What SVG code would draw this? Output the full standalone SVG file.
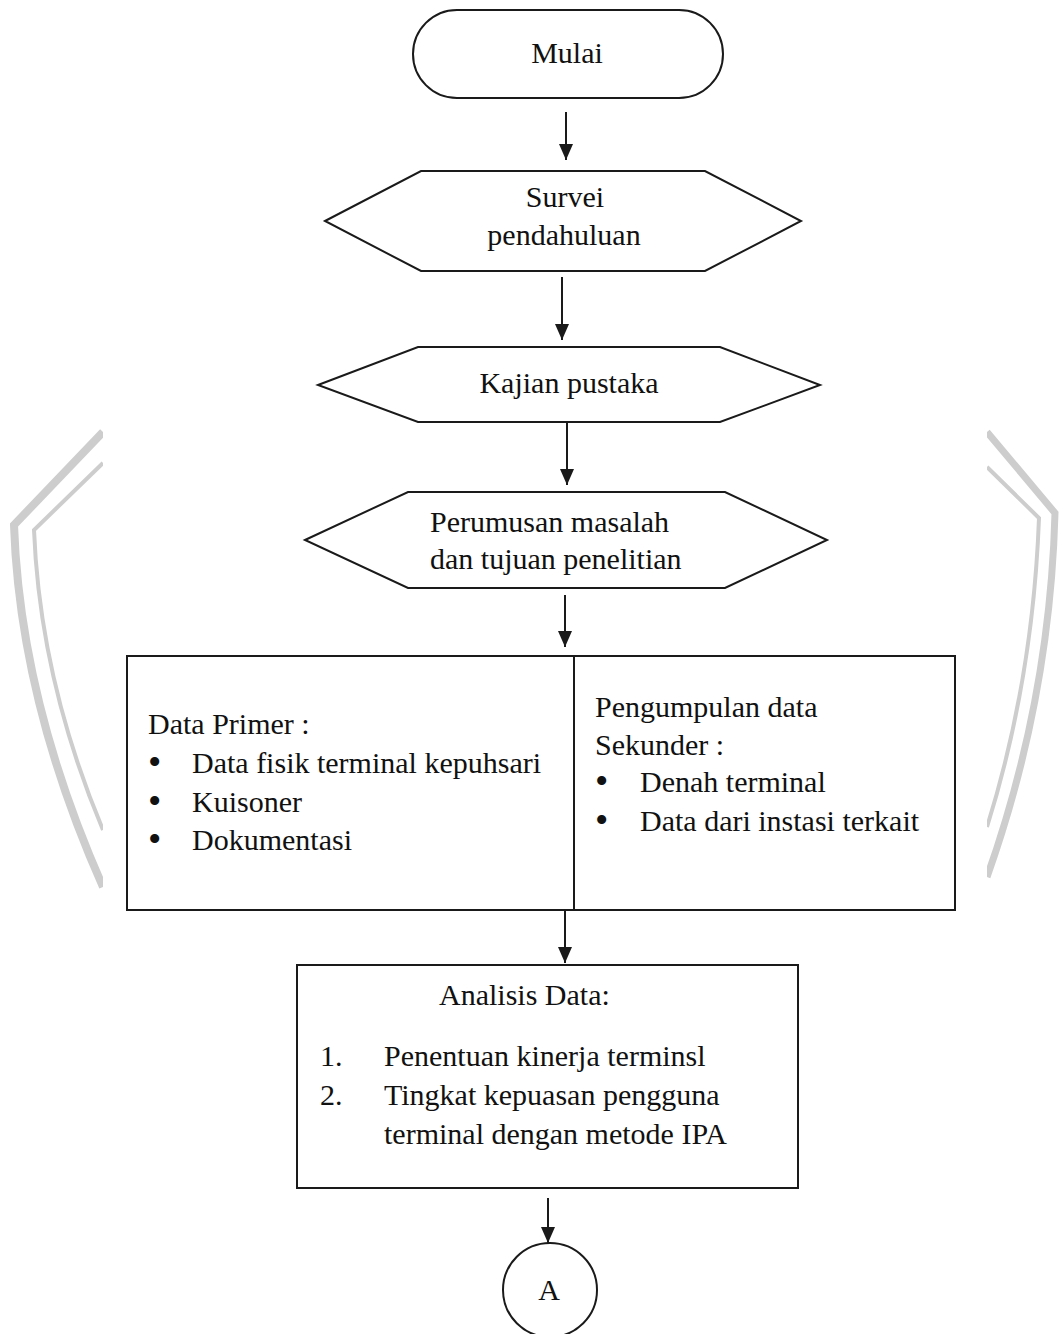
<svg xmlns="http://www.w3.org/2000/svg" width="1059" height="1334" viewBox="0 0 1059 1334">
<style>
.shape{fill:#ffffff;stroke:#1a1a1a;stroke-width:2}
.edge{fill:none;stroke:#1a1a1a;stroke-width:2}
.wm{fill:none;stroke:#cdcdcd;stroke-linecap:butt;stroke-linejoin:miter}
text{font-family:"Liberation Serif","Times New Roman",serif;font-size:30px;fill:#111111}
.c{text-anchor:middle}
.b{font-size:38px}
</style>
<defs>
<marker id="arrow" viewBox="0 0 16 14" refX="16" refY="7" markerWidth="16" markerHeight="14" orient="auto" markerUnits="userSpaceOnUse">
<path d="M0,0 L16,7 L0,14 z" fill="#1a1a1a"/>
</marker>
</defs>
<rect x="0" y="0" width="1059" height="1334" fill="#ffffff"/>
<g id="watermark">
<path class="wm" stroke-width="8" d="M103,432 L14,525 Q20,700 103,887"/>
<path class="wm" stroke-width="4" d="M103,463 L34,530 Q40,680 103,830"/>
<path class="wm" stroke-width="7" d="M987,432 L1055,513 Q1050,700 987,877"/>
<path class="wm" stroke-width="4" d="M987,467 L1039,518 Q1033,680 987,827"/>
<rect x="103" y="0" width="884" height="1334" fill="#ffffff"/>
</g>
<g id="connectors">
<line class="edge" x1="566" y1="112" x2="566" y2="160" marker-end="url(#arrow)"/>
<line class="edge" x1="562" y1="277" x2="562" y2="340" marker-end="url(#arrow)"/>
<line class="edge" x1="567" y1="423" x2="567" y2="485" marker-end="url(#arrow)"/>
<line class="edge" x1="565" y1="595" x2="565" y2="647" marker-end="url(#arrow)"/>
<line class="edge" x1="565" y1="911" x2="565" y2="963" marker-end="url(#arrow)"/>
<line class="edge" x1="548" y1="1198" x2="548" y2="1243" marker-end="url(#arrow)"/>
</g>
<g id="mulai">
<rect class="shape" x="413" y="10" width="310" height="88" rx="44" ry="44"/>
<text class="c" x="567" y="63">Mulai</text>
</g>
<g id="survei">
<polygon class="shape" points="325,221 421,171 705,171 801,221 705,271 421,271"/>
<text class="c" x="565" y="207">Survei</text>
<text class="c" x="564" y="245">pendahuluan</text>
</g>
<g id="kajian">
<polygon class="shape" points="318,385 418,347 720,347 820,385 720,422 418,422"/>
<text class="c" x="569" y="393">Kajian pustaka</text>
</g>
<g id="perumusan">
<polygon class="shape" points="305,540 408,492 725,492 827,540 725,588 408,588"/>
<text x="430" y="532">Perumusan masalah</text>
<text x="430" y="569">dan tujuan penelitian</text>
</g>
<g id="pengumpulan">
<rect class="shape" x="127" y="656" width="828" height="254"/>
<line class="edge" x1="574" y1="656" x2="574" y2="910"/>
<text x="148" y="734">Data Primer :</text>
<text class="b" x="148" y="775">•</text>
<text x="192" y="773">Data fisik terminal kepuhsari</text>
<text class="b" x="148" y="814">•</text>
<text x="192" y="812">Kuisoner</text>
<text class="b" x="148" y="852">•</text>
<text x="192" y="850">Dokumentasi</text>
<text x="595" y="717">Pengumpulan data</text>
<text x="595" y="755">Sekunder :</text>
<text class="b" x="595" y="794">•</text>
<text x="640" y="792">Denah terminal</text>
<text class="b" x="595" y="833">•</text>
<text x="640" y="831">Data dari instasi terkait</text>
</g>
<g id="analisis">
<rect class="shape" x="297" y="965" width="501" height="223"/>
<text x="439" y="1005">Analisis Data:</text>
<text x="320" y="1066">1.</text>
<text x="384" y="1066">Penentuan kinerja terminsl</text>
<text x="320" y="1105">2.</text>
<text x="384" y="1105">Tingkat kepuasan pengguna</text>
<text x="384" y="1144">terminal dengan metode IPA</text>
</g>
<g id="connector-a">
<circle class="shape" cx="550" cy="1290" r="47"/>
<text class="c" x="549" y="1300">A</text>
</g>
</svg>
